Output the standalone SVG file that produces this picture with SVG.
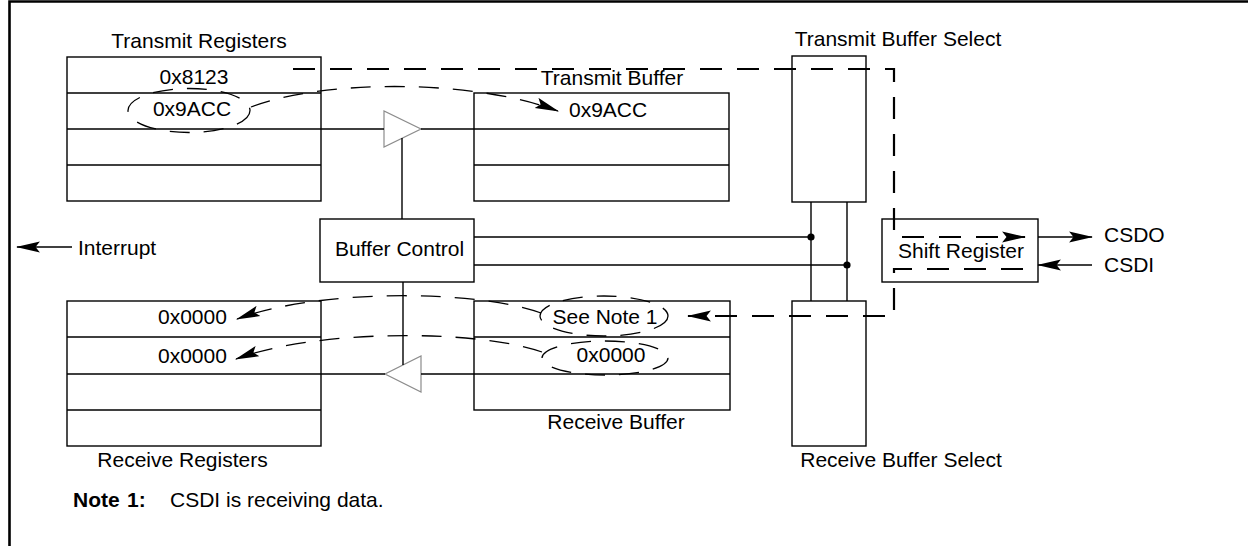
<svg xmlns="http://www.w3.org/2000/svg" width="1248" height="546" viewBox="0 0 1248 546">
<style>
.t{font-family:"Liberation Sans",Arial,Helvetica,sans-serif;font-size:21px;fill:#000}
.m{text-anchor:middle}
.box{fill:#fff;stroke:#000;stroke-width:1.4}
.ln{fill:none;stroke:#000;stroke-width:1.4}
.tri{fill:#fff;stroke:#8c8c8c;stroke-width:1.2}
.dash{fill:none;stroke:#000;stroke-width:2.2;stroke-dasharray:22 15}
.dc{fill:none;stroke:#000;stroke-width:1.3;stroke-dasharray:20 14}
.b{font-weight:bold}
</style>
<defs>
<marker id="ah" markerUnits="userSpaceOnUse" markerWidth="24" markerHeight="12" viewBox="0 0 22 10" refX="21" refY="5" orient="auto">
<path d="M0,0 L22,5 L0,10 L4,5 z" fill="#000"/>
</marker>
</defs>
<rect width="1248" height="546" fill="#fff"/>
<path d="M9.5,546 V1.5 H1248" fill="none" stroke="#000" stroke-width="2.6"/>

<g id="transmit-registers">
<rect class="box" x="67" y="57" width="254" height="144"/>
<path class="ln" d="M67,93 H321 M67,129 H321 M67,165 H321"/>
<text class="t m" x="199" y="47.5">Transmit Registers</text>
<text class="t m" x="194" y="83.5">0x8123</text>
<text class="t m" x="192" y="116">0x9ACC</text>
</g>

<g id="transmit-buffer">
<rect class="box" x="474" y="93" width="255" height="108"/>
<path class="ln" d="M474,129 H729 M474,165 H729"/>
<text class="t m" x="612" y="85">Transmit Buffer</text>
<text class="t" x="569" y="117">0x9ACC</text>
</g>

<g id="transmit-buffer-select">
<rect class="box" x="792" y="56" width="74" height="146"/>
<text class="t m" x="898" y="45.5">Transmit Buffer Select</text>
</g>

<g id="receive-buffer-select">
<rect class="box" x="792" y="301" width="74" height="145"/>
<text class="t m" x="901" y="467">Receive Buffer Select</text>
</g>

<g id="buffer-control">
<rect class="box" x="320" y="219" width="154" height="63"/>
<text class="t m" x="399.5" y="255.5">Buffer Control</text>
</g>

<g id="shift-register">
<rect class="box" x="882" y="219" width="156" height="63"/>
<text class="t m" x="961" y="257.5">Shift Register</text>
</g>

<g id="receive-registers">
<rect class="box" x="67" y="301" width="254" height="145"/>
<path class="ln" d="M67,337 H321 M67,374 H321 M67,410 H321"/>
<text class="t" x="158" y="324">0x0000</text>
<text class="t" x="158" y="363">0x0000</text>
<text class="t m" x="182.5" y="467">Receive Registers</text>
</g>

<g id="receive-buffer">
<rect class="box" x="474" y="301" width="256" height="109"/>
<path class="ln" d="M474,337 H730 M474,374 H730"/>
<text class="t m" x="605" y="323.5">See Note 1</text>
<text class="t m" x="611" y="362">0x0000</text>
<text class="t m" x="616" y="429">Receive Buffer</text>
</g>

<g id="transmit-driver">
<polygon class="tri" points="384,111 384,147 421,129"/>
</g>
<g id="receive-driver">
<polygon class="tri" points="421,356 421,392 385,374"/>
</g>

<g id="interrupt">
<text class="t" x="78" y="254.5">Interrupt</text>
</g>
<g id="csdo"><text class="t" x="1104" y="242">CSDO</text></g>
<g id="csdi"><text class="t" x="1104" y="272">CSDI</text></g>

<g id="note">
<text class="t" y="507"><tspan class="b" x="73">Note</tspan><tspan class="b" x="127">1:</tspan><tspan x="170">CSDI is receiving data.</tspan></text>
</g>

<g id="connectors">
<path class="ln" d="M321,129 H384 M421,129 H474"/>
<path class="ln" d="M402,138 V219"/>
<path class="ln" d="M474,237 H811 M474,265 H847"/>
<path class="ln" d="M811,202 V301 M847,202 V301"/>
<circle cx="811" cy="237" r="3.6" fill="#000"/>
<circle cx="847" cy="265" r="3.6" fill="#000"/>
<path class="ln" d="M474,374 H421 M385,374 H321"/>
<path class="ln" d="M403,282 V365"/>
<path class="ln" d="M1038,237 H1092" marker-end="url(#ah)"/>
<path class="ln" d="M1092,265 H1038" marker-end="url(#ah)"/>
<path class="ln" d="M72,247 H17" marker-end="url(#ah)"/>
<path class="dash" d="M293,69 H894 V237 H1025" marker-end="url(#ah)"/>
<path class="dash" d="M1023,269 H894 V316 H688" marker-end="url(#ah)"/>
<ellipse class="dc" cx="189" cy="110.5" rx="61" ry="22"/>
<ellipse class="dc" cx="604" cy="316" rx="64" ry="20"/>
<ellipse class="dc" cx="605" cy="358" rx="63" ry="17"/>
<path class="dc" d="M251,107 C320,80 470,78 558,111" marker-end="url(#ah)"/>
<path class="dc" d="M541,313 C480,290 320,288 237,319" marker-end="url(#ah)"/>
<path class="dc" d="M542,352 C480,330 320,328 236,359" marker-end="url(#ah)"/>
</g>
</svg>
